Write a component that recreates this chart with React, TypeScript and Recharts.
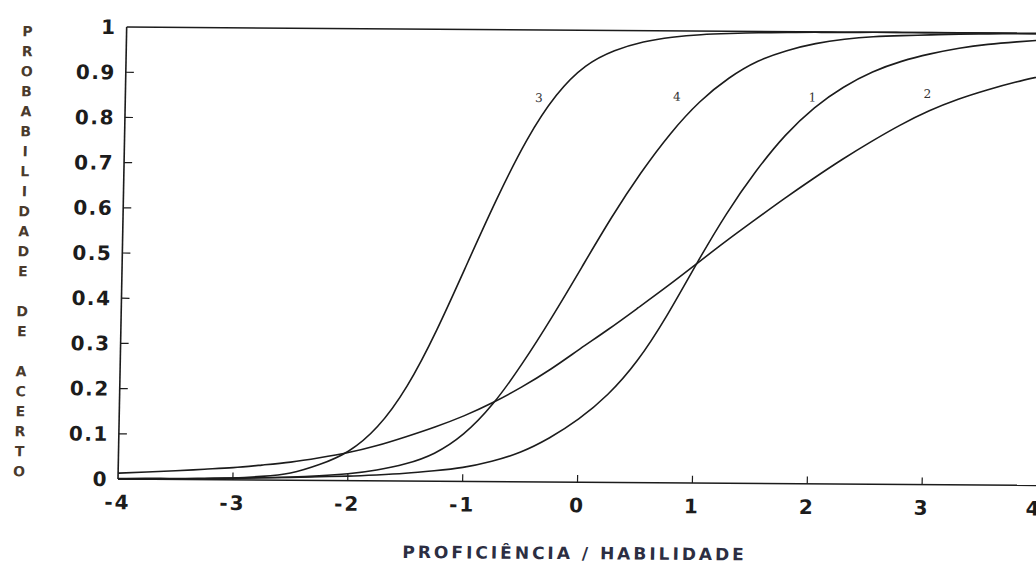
import React from 'react';
import { LineChart, Line, XAxis, YAxis, ReferenceLine, ReferenceDot } from 'recharts';

// proficiency grid (theta) and the probability of a correct answer for each item
const theta = [
  -4, -3.75, -3.5, -3.25, -3, -2.75, -2.5, -2.25, -2, -1.75, -1.5, -1.25, -1, -0.75, -0.5, -0.25,
  0, 0.25, 0.5, 0.75, 1, 1.25, 1.5, 1.75, 2, 2.25, 2.5, 2.75, 3, 3.25, 3.5, 3.75, 4,
];
const item1 = [
  0.001, 0.002, 0.002, 0.003, 0.004, 0.005, 0.006, 0.008, 0.01, 0.013, 0.017, 0.023, 0.031, 0.045, 0.066, 0.098,
  0.14, 0.195, 0.27, 0.37, 0.485, 0.595, 0.69, 0.77, 0.832, 0.878, 0.912, 0.936, 0.953, 0.966, 0.975, 0.981, 0.986,
];
const item2 = [
  0.013, 0.016, 0.019, 0.023, 0.027, 0.033, 0.04, 0.05, 0.062, 0.078, 0.098, 0.12, 0.145, 0.175, 0.21, 0.25,
  0.295, 0.34, 0.387, 0.435, 0.485, 0.535, 0.583, 0.63, 0.675, 0.718, 0.758, 0.795, 0.827, 0.853, 0.874, 0.892, 0.907,
];
const item3 = [
  0, 0, 0.001, 0.002, 0.004, 0.008, 0.016, 0.035, 0.065, 0.12, 0.21, 0.335, 0.48, 0.625, 0.755, 0.855,
  0.92, 0.955, 0.975, 0.986, 0.992, 0.995, 0.997, 0.998, 0.999, 0.999, 1, 1, 1, 1, 1, 1, 1,
];
const item4 = [
  0, 0.001, 0.001, 0.002, 0.003, 0.005, 0.007, 0.01, 0.015, 0.024, 0.038, 0.062, 0.105, 0.172, 0.262, 0.365,
  0.475, 0.585, 0.685, 0.772, 0.843, 0.896, 0.934, 0.958, 0.974, 0.984, 0.99, 0.993, 0.995, 0.997, 0.998, 0.999, 0.999,
];

const xTicks = [-4, -3, -2, -1, 0, 1, 2, 3, 4];
const yTicks = [0, 0.1, 0.2, 0.3, 0.4, 0.5, 0.6, 0.7, 0.8, 0.9, 1];

// where the little hand-written numbers sit next to each curve
const curveLabels = [
  { name: '3', x: -0.4, y: 0.85 },
  { name: '4', x: 0.8, y: 0.855 },
  { name: '1', x: 1.98, y: 0.855 },
  { name: '2', x: 2.98, y: 0.865 },
];

const yTitle = 'PROBABILIDADE DE ACERTO';
const xTitle = 'PROFICIÊNCIA / HABILIDADE';

const rows = theta.map((t, i) => ({
  t,
  i1: item1[i],
  i2: item2[i],
  i3: item3[i],
  i4: item4[i],
}));

const ink = '#1c1c1c';
const font = '"DejaVu Sans", Arial, sans-serif';

const fmtY = (v: number) => (v === 0 ? '0' : v === 1 ? '1' : v.toFixed(1));

export default function App() {
  const series = ['i1', 'i2', 'i3', 'i4'];
  return (
    <div style={{ width: 1036, height: 567, overflow: 'hidden', position: 'relative', background: '#fff' }}>
      <style>{`body{margin:0;background:#fff}`}</style>
      {/* the scan is slightly tilted and skewed, so the whole figure is too */}
      <div
        style={{
          position: 'absolute',
          left: 0,
          top: 0,
          width: 1040,
          height: 567,
          transformOrigin: '118px 479px',
          transform: 'rotate(0.4deg) skewX(-0.7deg)',
        }}
      >
        <LineChart width={1040} height={567} data={rows} margin={{ top: 27, right: 3, bottom: 28, left: 0 }}>
          <XAxis
            dataKey="t"
            type="number"
            domain={[-4, 4]}
            ticks={xTicks}
            tickFormatter={(v: number) => String(v)}
            height={60}
            tickLine={false}
            tickSize={0}
            tickMargin={16}
            axisLine={{ stroke: ink, strokeWidth: 1.6 }}
            tick={{ fill: ink, fontSize: 20, fontWeight: 'bold', fontFamily: font, letterSpacing: 2 }}
          />
          <YAxis
            type="number"
            domain={[0, 1]}
            ticks={yTicks}
            tickFormatter={fmtY}
            width={118}
            tickLine={false}
            tickSize={0}
            tickMargin={10}
            axisLine={{ stroke: ink, strokeWidth: 1.6 }}
            tick={{ fill: ink, fontSize: 20, fontWeight: 'bold', fontFamily: font, letterSpacing: 1.5 }}
          />
          <ReferenceLine y={1} stroke={ink} strokeWidth={1.6} />
          {yTicks
            .filter((v) => v > 0 && v < 1)
            .map((v) => (
              <ReferenceLine
                key={`yt${v}`}
                segment={[
                  { x: -4, y: v },
                  { x: -3.93, y: v },
                ]}
                stroke={ink}
                strokeWidth={1.2}
              />
            ))}
          {xTicks
            .filter((v) => v > -4 && v < 4)
            .map((v) => (
              <ReferenceLine
                key={`xt${v}`}
                segment={[
                  { x: v, y: 0 },
                  { x: v, y: 0.016 },
                ]}
                stroke={ink}
                strokeWidth={1.2}
              />
            ))}
          {series.map((k) => (
            <Line
              key={k}
              dataKey={k}
              type="natural"
              stroke={ink}
              strokeWidth={1.6}
              dot={false}
              isAnimationActive={false}
            />
          ))}
          {curveLabels.map((c) => (
            <ReferenceDot
              key={c.name}
              x={c.x}
              y={c.y}
              r={0}
              fill="none"
              stroke="none"
              label={{ value: c.name, position: 'center', fill: '#333', fontSize: 12, fontFamily: '"DejaVu Serif", serif' }}
            />
          ))}
        </LineChart>

        <div
          style={{
            position: 'absolute',
            left: 8,
            top: 22,
            width: 22,
            display: 'flex',
            flexDirection: 'column',
            alignItems: 'center',
            fontFamily: font,
            fontWeight: 'bold',
            fontSize: 14,
            color: '#4a3a2c',
          }}
        >
          {yTitle.split('').map((ch, i) => (
            <span key={i} style={{ height: 20, lineHeight: '20px' }}>
              {ch === ' ' ? '\u00a0' : ch}
            </span>
          ))}
        </div>

        <div
          style={{
            position: 'absolute',
            left: 356,
            top: 540,
            width: 440,
            textAlign: 'center',
            fontFamily: font,
            fontWeight: 'bold',
            fontSize: 17,
            letterSpacing: 3,
            color: '#2c2e42',
            whiteSpace: 'nowrap',
          }}
        >
          {xTitle}
        </div>
      </div>
    </div>
  );
}
